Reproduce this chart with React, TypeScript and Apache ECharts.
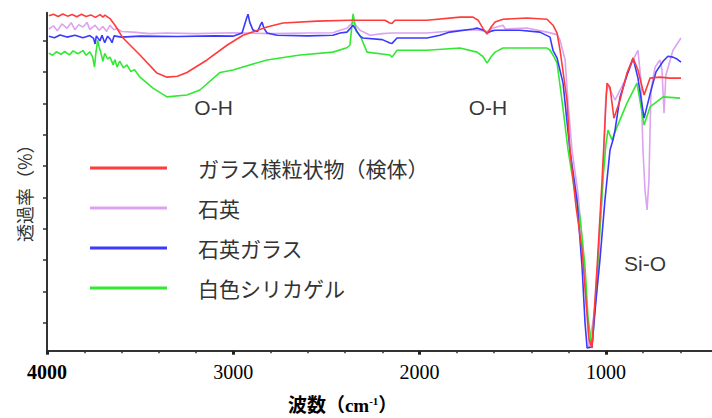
import React, { useEffect, useRef } from "react";
import * as echarts from "echarts";

const seriesNames = ["ガラス様粒状物（検体）", "石英", "石英ガラス", "白色シリカゲル"];
const seriesColors = ["#ff3b3b", "#dba3f0", "#3a3aff", "#33e833"];

// [wavenumber (cm-1), transmittance (relative)]
const sampleData: [number, number][] = [
  [3990, 98.0], [3965, 98.5], [3940, 97.8], [3915, 98.6], [3890, 97.9], [3865, 98.4], [3840, 97.7],
  [3815, 98.5], [3790, 97.8], [3765, 98.3], [3740, 97.5], [3715, 98.4], [3700, 97.6], [3689, 98.2],
  [3660, 97.0], [3635, 95.0], [3592, 90.9], [3501, 85.5], [3410, 79.7], [3356, 78.4], [3300, 78.7],
  [3249, 79.9], [3141, 83.9], [3034, 88.6], [2948, 91.8], [2819, 94.4], [2733, 95.7], [2551, 96.3],
  [2374, 96.6], [2320, 96.6], [2186, 96.6], [2160, 95.7], [2148, 95.6], [2132, 96.6], [1960, 96.6],
  [1783, 97.6], [1713, 97.6], [1686, 96.6], [1660, 94.0], [1638, 92.2], [1615, 94.5], [1595, 96.0],
  [1552, 96.9], [1424, 97.3], [1316, 96.9], [1284, 95.0], [1262, 92.5], [1246, 87.0], [1209, 71.1],
  [1193, 55.1], [1160, 36.9], [1128, 23.2], [1107, 7.2], [1090, -5.5], [1075, -8.1], [1069, -2.3],
  [1048, 17.0], [1021, 45.0], [1010, 58.0], [1000, 70.0], [994, 76.5], [978, 75.2], [957, 65.3],
  [924, 71.1], [887, 79.7], [854, 84.5], [828, 80.7], [795, 72.7], [763, 78.1], [710, 78.4],
  [656, 78.1], [597, 78.1],
];

const quartzData: [number, number][] = [
  [3990, 93.8], [3965, 94.8], [3945, 93.2], [3920, 95.4], [3893, 94.0], [3870, 95.8], [3850, 93.5],
  [3830, 95.2], [3807, 94.4], [3785, 95.9], [3770, 93.6], [3742, 95.0], [3720, 93.4], [3700, 94.6],
  [3680, 93.0], [3662, 95.0], [3640, 93.5], [3624, 94.0], [3600, 93.0], [3538, 92.8], [3450, 92.3],
  [3356, 92.5], [3200, 92.3], [3000, 92.6], [2800, 92.3], [2600, 92.5], [2465, 92.6], [2427, 93.4],
  [2390, 94.0], [2357, 96.0], [2320, 93.4], [2266, 91.8], [2200, 92.3], [2148, 92.5], [1960, 92.5],
  [1783, 93.4], [1700, 93.6], [1638, 93.0], [1606, 94.1], [1552, 95.0], [1540, 93.8], [1424, 94.1],
  [1316, 92.8], [1262, 92.0], [1246, 90.2], [1219, 83.9], [1203, 70.1], [1182, 55.1], [1150, 41.4],
  [1123, 23.2], [1101, 1.8], [1090, -8.1], [1053, 7.2], [1032, 29.6], [1021, 39.2], [1010, 55.1],
  [1000, 72.7], [989, 75.8], [951, 71.1], [897, 77.5], [854, 83.9], [828, 87.0], [812, 77.5],
  [801, 55.1], [790, 42.3], [779, 36.0], [769, 45.5], [758, 74.3], [736, 81.6], [710, 83.9],
  [699, 80.7], [688, 66.9], [678, 79.1], [640, 87.0], [597, 90.9],
];

const quartzGlassData: [number, number][] = [
  [3990, 91.5], [3960, 91.0], [3930, 91.9], [3893, 91.2], [3850, 91.8], [3807, 91.0], [3770, 91.7],
  [3750, 90.8], [3742, 89.0], [3735, 91.6], [3716, 90.0], [3705, 91.8], [3690, 89.4], [3675, 91.5],
  [3660, 90.5], [3651, 89.4], [3640, 91.6], [3600, 91.2], [3500, 91.5], [3300, 91.4], [3100, 91.6],
  [3002, 91.5], [2953, 92.5], [2930, 97.0], [2921, 98.5], [2912, 96.0], [2895, 93.5], [2870, 93.0],
  [2855, 95.0], [2846, 96.0], [2835, 94.0], [2819, 92.5], [2765, 91.8], [2600, 91.6], [2465, 91.8],
  [2427, 92.5], [2390, 92.8], [2357, 95.0], [2320, 91.5], [2304, 90.9], [2200, 90.4], [2159, 89.3],
  [2148, 89.2], [2121, 90.9], [1960, 90.9], [1891, 91.8], [1837, 92.8], [1713, 93.8], [1692, 94.1],
  [1660, 93.5], [1638, 92.5], [1610, 93.2], [1595, 93.4], [1461, 93.4], [1354, 92.8], [1300, 91.2],
  [1284, 87.0], [1262, 84.5], [1230, 76.5], [1193, 55.1], [1155, 39.2], [1128, 17.8], [1112, -0.1],
  [1101, -8.1], [1075, -7.8], [1053, 7.2], [1032, 20.0], [1005, 39.2], [978, 55.1], [962, 58.3],
  [951, 61.5], [924, 72.1], [887, 79.0], [854, 84.5], [828, 78.1], [795, 65.3], [763, 73.0],
  [731, 80.1], [693, 83.5], [667, 85.1], [640, 84.8], [618, 84.2], [597, 83.2],
];

const silicaGelData: [number, number][] = [
  [3990, 86.1], [3970, 85.4], [3950, 86.5], [3925, 85.7], [3905, 86.6], [3880, 85.5], [3860, 86.8],
  [3835, 85.9], [3807, 86.9], [3790, 85.4], [3770, 86.5], [3755, 84.8], [3745, 81.6], [3738, 86.0],
  [3728, 90.2], [3720, 88.0], [3712, 86.5], [3700, 83.5], [3690, 86.0], [3675, 84.2], [3662, 84.8],
  [3645, 82.4], [3635, 84.0], [3624, 81.6], [3610, 83.5], [3590, 81.4], [3571, 82.3], [3550, 80.2],
  [3530, 80.8], [3501, 78.4], [3431, 74.9], [3356, 72.1], [3249, 72.7], [3179, 74.3], [3071, 79.9],
  [3002, 80.7], [2819, 83.9], [2642, 85.5], [2465, 86.4], [2390, 87.8], [2374, 88.6], [2357, 98.6],
  [2340, 93.0], [2320, 91.8], [2282, 86.4], [2159, 85.5], [2148, 84.8], [2121, 87.0], [1960, 87.0],
  [1783, 87.7], [1692, 86.4], [1660, 85.0], [1638, 82.9], [1615, 85.0], [1595, 86.4], [1552, 87.7],
  [1316, 87.7], [1300, 87.0], [1284, 85.5], [1262, 82.9], [1236, 71.1], [1203, 55.1], [1166, 41.4],
  [1139, 33.7], [1112, 17.8], [1096, 1.8], [1075, -8.1], [1069, -3.9], [1042, 20.0], [1016, 45.5],
  [1000, 56.7], [989, 61.5], [967, 58.3], [940, 62.5], [887, 70.1], [833, 76.5], [795, 63.1],
  [763, 68.9], [693, 72.1], [602, 71.7],
];

const annotations = [
  { name: "O-H", value: [3106, 68.7] },
  { name: "O-H", value: [1633, 68.8] },
  { name: "Si-O", value: [790, 18.9] },
];

const xAxisTitle = "波数（cm{s|-1}）";
const yAxisTitle = "透過率（%）";

export default function App() {
  const ref = useRef<HTMLDivElement>(null);
  useEffect(() => {
    const chart = echarts.init(ref.current!, null, { renderer: "svg" });
    const dataSets = [sampleData, quartzData, quartzGlassData, silicaGelData];
    const drawOrder = [1, 3, 2, 0];
    chart.setOption({
      animation: false,
      backgroundColor: "#ffffff",
      legend: {
        orient: "vertical",
        left: 90,
        top: 156,
        padding: 0,
        itemGap: 16,
        itemWidth: 77,
        itemHeight: 3,
        icon: "rect",
        data: seriesNames,
        selectedMode: false,
        textStyle: {
          fontSize: 21,
          lineHeight: 24,
          color: "#333",
          fontFamily: "Noto Sans CJK JP",
          padding: [0, 0, 0, 26],
        },
      },
      grid: [
        { left: 47, top: 12.7, width: 745.2, bottom: 67.3, outerBoundsMode: "none", containLabel: false },
        { left: 47, top: 40.7, width: 1, bottom: 95.3, outerBoundsMode: "none", containLabel: false },
      ],
      xAxis: [
        {
          type: "value",
          gridIndex: 0,
          inverse: true,
          min: 0,
          max: 4000,
          interval: 1000,
          axisLine: { show: true, onZero: false, lineStyle: { color: "#333", width: 2 } },
          axisTick: { show: true, length: 4, lineStyle: { color: "#222", width: 3 } },
          minorTick: { show: true, splitNumber: 5, length: 2.5, lineStyle: { color: "#333", width: 1.5 } },
          splitLine: { show: false },
          axisLabel: {
            margin: 11,
            fontSize: 20,
            color: "#000",
            fontFamily: "Liberation Serif",
            formatter: (v: number) => (v === 4000 ? "{b|4000}" : v > 0 ? String(v) : ""),
            rich: { b: { fontSize: 20, fontWeight: "bold", fontFamily: "Liberation Serif", color: "#000" } },
          },
          name: xAxisTitle,
          nameLocation: "middle",
          nameGap: 45,
          nameTextStyle: {
            fontSize: 19,
            fontWeight: "bold",
            color: "#000",
            fontFamily: "Liberation Serif, Noto Sans CJK JP",
            padding: [0, 154, 0, 0],
            rich: {
              s: { fontSize: 11, fontWeight: "bold", fontFamily: "Liberation Serif", padding: [0, 0, 8, 0], color: "#000" },
            },
          },
        },
        { type: "value", gridIndex: 1, show: false, min: 0, max: 1 },
      ],
      yAxis: [
        {
          type: "value",
          gridIndex: 0,
          min: -9,
          max: 99,
          axisLine: { show: true, onZero: false, lineStyle: { color: "#333", width: 2 } },
          axisTick: { show: false },
          axisLabel: { show: false },
          splitLine: { show: false },
          name: yAxisTitle,
          nameLocation: "middle",
          nameRotate: 90,
          nameGap: 14,
          nameTextStyle: {
            fontSize: 18,
            color: "#333",
            fontFamily: "Noto Sans CJK JP",
            padding: [0, 14, 0, 0],
          },
        },
        {
          type: "value",
          gridIndex: 1,
          min: 0,
          max: 90,
          interval: 10,
          axisLine: { show: false, onZero: false },
          axisTick: { show: true, length: 4, lineStyle: { color: "#333", width: 1.5 } },
          axisLabel: { show: false },
          splitLine: { show: false },
        },
      ],
      series: [
        ...drawOrder.map((i) => ({
          type: "line",
          name: seriesNames[i],
          xAxisIndex: 0,
          yAxisIndex: 0,
          data: dataSets[i],
          color: seriesColors[i],
          showSymbol: false,
          symbol: "none",
          lineStyle: { width: 1.6, color: seriesColors[i] },
          silent: true,
        })),
        {
          type: "scatter",
          name: "annotations",
          xAxisIndex: 0,
          yAxisIndex: 0,
          data: annotations,
          symbolSize: 1,
          itemStyle: { color: "rgba(0,0,0,0)" },
          silent: true,
          label: {
            show: true,
            position: "inside",
            formatter: "{b}",
            fontSize: 21,
            color: "#000",
            fontFamily: "Liberation Sans",
          },
        },
      ],
    });
    return () => chart.dispose();
  }, []);
  return (
    <div
      ref={ref}
      style={{ position: "absolute", left: 0, top: 0, width: 712, height: 418, overflow: "hidden", background: "#fff" }}
    />
  );
}
